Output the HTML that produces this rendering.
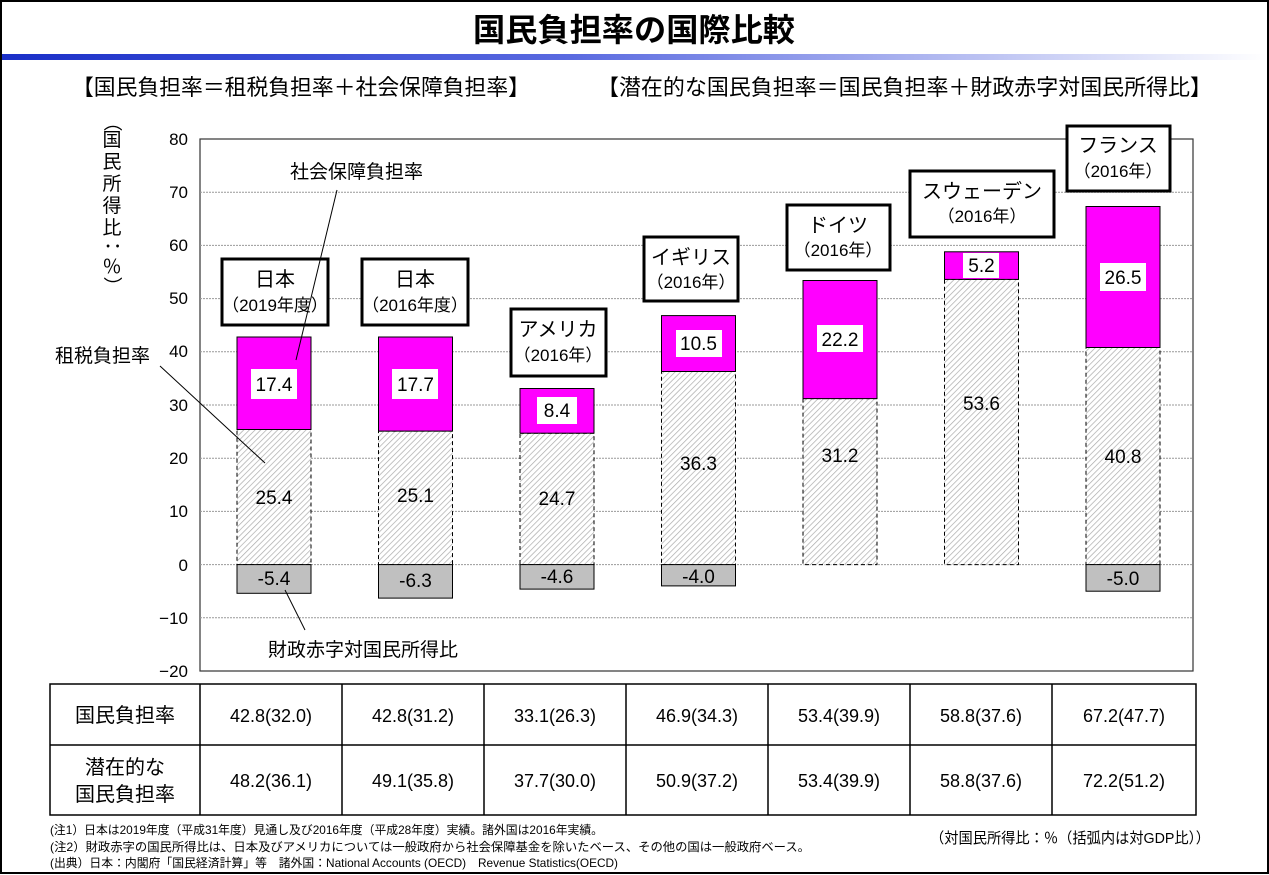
<!DOCTYPE html>
<html><head><meta charset="utf-8"><style>
html,body{margin:0;padding:0;background:#fff}
svg{display:block}
text{font-family:"Liberation Sans","Noto Sans CJK JP",sans-serif}
</style></head><body>
<svg width="1269" height="875" viewBox="0 0 1269 875" xmlns="http://www.w3.org/2000/svg">
<defs>
<linearGradient id="bl" x1="0" x2="1" y1="0" y2="0">
<stop offset="0" stop-color="#1a2fc8"/><stop offset="0.45" stop-color="#5a6ae0"/><stop offset="1" stop-color="#ffffff"/>
</linearGradient>
<pattern id="h" width="4" height="4" patternUnits="userSpaceOnUse" patternTransform="rotate(45)">
<rect width="4" height="4" fill="#fff"/><line x1="0" y1="0" x2="0" y2="4" stroke="#aaa" stroke-width="1.4"/>
</pattern>
</defs>
<rect x="1" y="1" width="1267" height="872" fill="#fff" stroke="#000" stroke-width="2"/>
<text x="634" y="41" text-anchor="middle" font-size="32" font-weight="bold" textLength="322" lengthAdjust="spacingAndGlyphs">国民負担率の国際比較</text>
<rect x="2" y="54" width="1265" height="6" fill="url(#bl)"/>
<text x="72" y="95" font-size="22" textLength="458" lengthAdjust="spacingAndGlyphs">【国民負担率＝租税負担率＋社会保障負担率】</text>
<text x="597" y="95" font-size="22" textLength="615" lengthAdjust="spacingAndGlyphs">【潜在的な国民負担率＝国民負担率＋財政赤字対国民所得比】</text>
<g font-size="19" text-anchor="middle">
<text x="112" y="128" transform="rotate(90 112 122)">（</text>
<text x="112" y="146">国</text><text x="112" y="168">民</text><text x="112" y="190">所</text><text x="112" y="212">得</text><text x="112" y="234">比</text>
<text x="112" y="252" transform="rotate(90 112 246)">：</text>
<text x="112" y="273">％</text>
<text x="112" y="292" transform="rotate(90 112 286)">）</text>
</g>
<rect x="200" y="139" width="993" height="532" fill="#fff" stroke="#333" stroke-width="1.2"/>
<g stroke="#999" stroke-width="1" stroke-dasharray="2,1">
<line x1="200" y1="192.2" x2="1193" y2="192.2"/><line x1="200" y1="245.4" x2="1193" y2="245.4"/>
<line x1="200" y1="298.6" x2="1193" y2="298.6"/><line x1="200" y1="351.8" x2="1193" y2="351.8"/>
<line x1="200" y1="405" x2="1193" y2="405"/><line x1="200" y1="458.2" x2="1193" y2="458.2"/>
<line x1="200" y1="511.4" x2="1193" y2="511.4"/><line x1="200" y1="564.6" x2="1193" y2="564.6"/>
<line x1="200" y1="617.8" x2="1193" y2="617.8"/>
</g>
<g font-size="17" text-anchor="end">
<text x="188" y="145">80</text><text x="188" y="198">70</text><text x="188" y="251">60</text><text x="188" y="304">50</text>
<text x="188" y="357">40</text><text x="188" y="411">30</text><text x="188" y="464">20</text><text x="188" y="517">10</text>
<text x="188" y="571">0</text><text x="188" y="624">−10</text><text x="188" y="677">−20</text>
</g>
<g>
<rect x="237" y="429.5" width="74" height="135.1" fill="url(#h)" stroke="#000" stroke-dasharray="4,3"/>
<rect x="237" y="337" width="74" height="92.5" fill="#ff00ff" stroke="#000"/>
<rect x="237" y="564.6" width="74" height="28.7" fill="#c0c0c0" stroke="#000"/>
<rect x="378.5" y="431.1" width="74" height="133.5" fill="url(#h)" stroke="#000" stroke-dasharray="4,3"/>
<rect x="378.5" y="337" width="74" height="94.1" fill="#ff00ff" stroke="#000"/>
<rect x="378.5" y="564.6" width="74" height="33.5" fill="#c0c0c0" stroke="#000"/>
<rect x="520" y="433.2" width="74" height="131.4" fill="url(#h)" stroke="#000" stroke-dasharray="4,3"/>
<rect x="520" y="388.5" width="74" height="44.7" fill="#ff00ff" stroke="#000"/>
<rect x="520" y="564.6" width="74" height="24.5" fill="#c0c0c0" stroke="#000"/>
<rect x="661.5" y="371.5" width="74" height="193.1" fill="url(#h)" stroke="#000" stroke-dasharray="4,3"/>
<rect x="661.5" y="315.6" width="74" height="55.9" fill="#ff00ff" stroke="#000"/>
<rect x="661.5" y="564.6" width="74" height="21.3" fill="#c0c0c0" stroke="#000"/>
<rect x="803" y="398.6" width="74" height="166" fill="url(#h)" stroke="#000" stroke-dasharray="4,3"/>
<rect x="803" y="280.5" width="74" height="118.1" fill="#ff00ff" stroke="#000"/>
<rect x="944.5" y="279.4" width="74" height="285.2" fill="url(#h)" stroke="#000" stroke-dasharray="4,3"/>
<rect x="944.5" y="251.8" width="74" height="27.6" fill="#ff00ff" stroke="#000"/>
<rect x="1086" y="347.5" width="74" height="217.1" fill="url(#h)" stroke="#000" stroke-dasharray="4,3"/>
<rect x="1086" y="206.5" width="74" height="141" fill="#ff00ff" stroke="#000"/>
<rect x="1086" y="564.6" width="74" height="26.6" fill="#c0c0c0" stroke="#000"/>
</g>
<g fill="#fff">
<rect x="251" y="369" width="46" height="30"/><rect x="392" y="369" width="46" height="30"/>
<rect x="537" y="397" width="40" height="27"/><rect x="676" y="330" width="46" height="27"/>
<rect x="817" y="325" width="46" height="27"/><rect x="963" y="253" width="36" height="25"/>
<rect x="1100" y="263" width="46" height="28"/>
</g>
<g font-size="19" text-anchor="middle">
<text x="274" y="391">17.4</text><text x="415.5" y="391">17.7</text><text x="557" y="417">8.4</text>
<text x="698.5" y="350">10.5</text><text x="840" y="346">22.2</text><text x="981.5" y="272">5.2</text>
<text x="1123" y="284">26.5</text>
<text x="274" y="504">25.4</text><text x="415.5" y="502">25.1</text><text x="557" y="505">24.7</text>
<text x="698.5" y="470">36.3</text><text x="840" y="462">31.2</text><text x="981.5" y="410">53.6</text>
<text x="1123" y="463">40.8</text>
<text x="274" y="585">-5.4</text><text x="415.5" y="587">-6.3</text><text x="557" y="583">-4.6</text>
<text x="698.5" y="583">-4.0</text><text x="1123" y="585">-5.0</text>
</g>
<g fill="#fff" stroke="#000" stroke-width="3">
<rect x="222" y="259" width="106" height="66"/><rect x="362" y="259" width="106" height="66"/>
<rect x="511" y="309" width="95" height="67"/><rect x="644" y="237" width="94" height="64"/>
<rect x="787" y="205" width="103" height="65"/><rect x="910" y="171" width="144" height="66"/>
<rect x="1067" y="126" width="103" height="65"/>
</g>
<g text-anchor="middle">
<text x="275" y="286" font-size="20">日本</text><text x="275" y="311" font-size="17">（2019年度）</text>
<text x="415" y="286" font-size="20">日本</text><text x="415" y="311" font-size="17">（2016年度）</text>
<text x="558" y="336" font-size="20">アメリカ</text><text x="558" y="361" font-size="17">（2016年）</text>
<text x="691" y="264" font-size="20">イギリス</text><text x="691" y="288" font-size="17">（2016年）</text>
<text x="838" y="232" font-size="20">ドイツ</text><text x="838" y="256" font-size="17">（2016年）</text>
<text x="982" y="198" font-size="20">スウェーデン</text><text x="982" y="222" font-size="17">（2016年）</text>
<text x="1118" y="152" font-size="20">フランス</text><text x="1118" y="177" font-size="17">（2016年）</text>
</g>
<text x="290" y="178" font-size="19">社会保障負担率</text>
<line x1="337" y1="190" x2="296" y2="360" stroke="#000"/>
<text x="55" y="362" font-size="19">租税負担率</text>
<line x1="160" y1="366" x2="265" y2="463" stroke="#000"/>
<text x="268" y="656" font-size="19">財政赤字対国民所得比</text>
<line x1="285" y1="590" x2="305" y2="630" stroke="#000"/>
<g stroke="#000" stroke-width="1.5" fill="none">
<rect x="50" y="684" width="1146" height="131"/>
<line x1="50" y1="745" x2="1196" y2="745"/>
<line x1="200" y1="684" x2="200" y2="815"/><line x1="342" y1="684" x2="342" y2="815"/>
<line x1="484" y1="684" x2="484" y2="815"/><line x1="626" y1="684" x2="626" y2="815"/>
<line x1="768" y1="684" x2="768" y2="815"/><line x1="910" y1="684" x2="910" y2="815"/>
<line x1="1052" y1="684" x2="1052" y2="815"/>
</g>
<g font-size="18" text-anchor="middle">
<text x="125" y="722" font-size="20">国民負担率</text>
<text x="125" y="774" font-size="20">潜在的な</text><text x="125" y="801" font-size="20">国民負担率</text>
<text x="271" y="722">42.8(32.0)</text><text x="413" y="722">42.8(31.2)</text><text x="555" y="722">33.1(26.3)</text>
<text x="697" y="722">46.9(34.3)</text><text x="839" y="722">53.4(39.9)</text><text x="981" y="722">58.8(37.6)</text>
<text x="1124" y="722">67.2(47.7)</text>
<text x="271" y="787">48.2(36.1)</text><text x="413" y="787">49.1(35.8)</text><text x="555" y="787">37.7(30.0)</text>
<text x="697" y="787">50.9(37.2)</text><text x="839" y="787">53.4(39.9)</text><text x="981" y="787">58.8(37.6)</text>
<text x="1124" y="787">72.2(51.2)</text>
</g>
<g font-size="12">
<text x="50" y="834" textLength="553" lengthAdjust="spacingAndGlyphs">(注1）日本は2019年度（平成31年度）見通し及び2016年度（平成28年度）実績。諸外国は2016年実績。</text>
<text x="50" y="851" textLength="760" lengthAdjust="spacingAndGlyphs">(注2）財政赤字の国民所得比は、日本及びアメリカについては一般政府から社会保障基金を除いたベース、その他の国は一般政府ベース。</text>
<text x="50" y="867" textLength="568" lengthAdjust="spacingAndGlyphs">(出典）日本：内閣府「国民経済計算」等　諸外国：National Accounts (OECD)　Revenue Statistics(OECD)</text>
</g>
<text x="930" y="843" font-size="15" textLength="280" lengthAdjust="spacingAndGlyphs">（対国民所得比：％（括弧内は対GDP比））</text>
</svg>
</body></html>
